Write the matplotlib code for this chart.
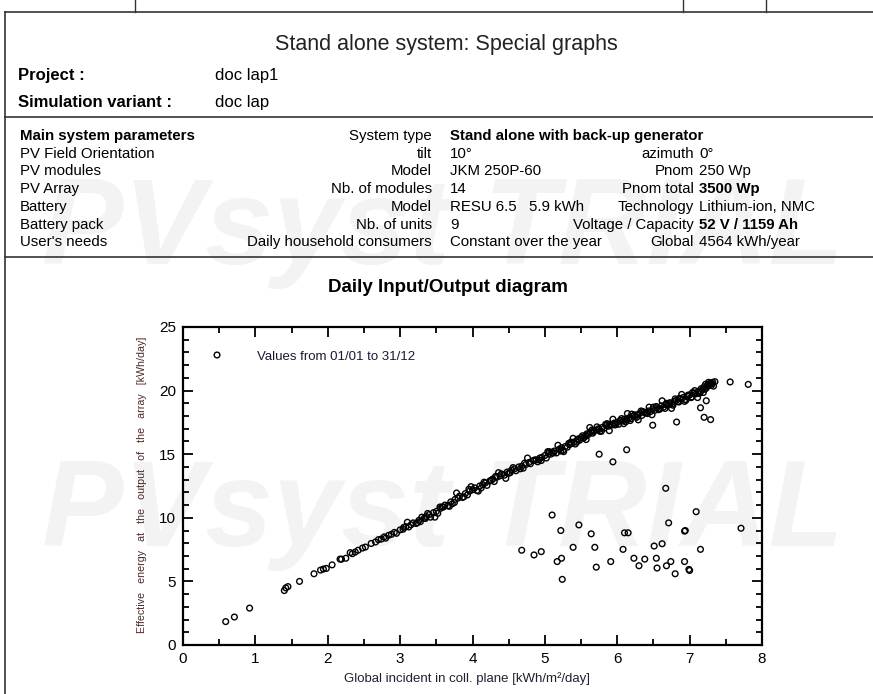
import numpy as np
import matplotlib.pyplot as plt
from matplotlib.ticker import MultipleLocator

plt.rcParams['font.family'] = ['Liberation Sans', 'DejaVu Sans']

# header texts
page_title = 'Stand alone system: Special graphs'
project_rows = [('Project :', 'doc lap1'), ('Simulation variant :', 'doc lap')]
param_rows = [
    ('Main system parameters', 'System type', 'Stand alone with back-up generator', '', ''),
    ('PV Field Orientation', 'tilt', '10°', 'azimuth', '0°'),
    ('PV modules', 'Model', 'JKM 250P-60', 'Pnom', '250 Wp'),
    ('PV Array', 'Nb. of modules', '14', 'Pnom total', '3500 Wp'),
    ('Battery', 'Model', 'RESU 6.5   5.9 kWh', 'Technology', 'Lithium-ion, NMC'),
    ('Battery pack', 'Nb. of units', '9', 'Voltage / Capacity', '52 V / 1159 Ah'),
    ("User's needs", 'Daily household consumers', 'Constant over the year', 'Global', '4564 kWh/year'),
]
bold_values = ['Stand alone with back-up generator', '3500 Wp', '52 V / 1159 Ah']

chart_title = 'Daily Input/Output diagram'
x_label = 'Global incident in coll. plane [kWh/m²/day]'
y_label = 'Effective   energy   at   the   output   of   the   array   [kWh/day]'
legend_text = 'Values from 01/01 to 31/12'

# daily points: global incident (kWh/m2/day) vs effective energy (kWh/day)
low_x = [0.59, 0.71, 0.92, 1.40, 1.42, 1.45, 1.61, 1.81, 1.90, 1.94, 1.98, 2.06,
         2.17, 2.19, 2.25, 2.31, 2.34, 2.38, 2.42]
low_y = [1.84, 2.20, 2.90, 4.28, 4.49, 4.59, 5.00, 5.60, 5.89, 5.97, 6.02, 6.30,
         6.75, 6.75, 6.82, 7.26, 7.18, 7.31, 7.45]

band_x = [2.48, 2.52, 2.60, 2.66, 2.70, 2.74, 2.78, 2.80, 2.84, 2.88, 2.92, 2.95,
          3.00, 3.04, 3.08, 3.12, 3.15, 3.18, 3.22, 3.26, 3.28, 3.30, 3.33, 3.36,
          3.40, 3.42, 3.46, 3.50, 3.52, 3.56, 3.60, 3.62, 3.66, 3.70, 3.72, 3.76,
          3.80, 3.82, 3.86, 3.90, 3.93, 3.96, 4.00, 4.03, 4.06, 4.10, 4.14, 4.18,
          4.20, 4.24, 4.28, 4.30, 4.34, 4.38, 4.40, 4.44, 4.48, 4.50, 4.54, 4.58,
          4.60, 4.64, 4.68, 4.70, 4.74, 4.78, 4.80, 4.84, 4.88, 4.90, 4.93, 4.96,
          5.00, 5.02, 5.05, 5.08, 5.10, 5.13, 5.16, 5.20, 5.23, 5.25, 5.28, 5.31,
          5.34, 5.37, 5.40, 5.42, 5.45, 5.48, 5.50, 5.53, 5.56, 5.58, 5.60, 5.63,
          5.66, 5.68, 5.71, 5.74, 5.76, 5.79, 5.82, 5.85, 5.88, 5.90, 5.93, 5.96,
          6.00, 6.02, 6.05, 6.08, 6.10, 6.13, 6.16, 6.19, 6.22, 6.25, 6.28, 6.31,
          6.34, 6.37, 6.40, 6.43, 6.46, 6.49, 6.52, 6.55, 6.58, 6.61, 6.64, 6.67,
          6.70, 6.73, 6.76, 6.79, 6.82, 6.85, 6.88, 6.91, 6.94, 6.97, 7.00, 7.03,
          7.06, 7.09, 7.12, 7.15, 7.18, 7.20, 7.23, 7.25, 7.28, 7.30, 7.32, 7.35,
          3.10, 3.24, 3.38, 3.48, 3.58, 3.68, 3.78, 3.88, 3.98, 4.08, 4.16, 4.26,
          4.36, 4.46, 4.56, 4.66, 4.76, 4.86, 4.95, 5.04, 5.12, 5.18, 5.26, 5.33,
          5.39, 5.44, 5.52, 5.57, 5.62, 5.67, 5.72, 5.78, 5.84, 5.89, 5.94, 5.98,
          6.04, 6.09, 6.14, 6.18, 6.24, 6.29, 6.33, 6.39, 6.44, 6.48, 6.54, 6.57,
          6.62, 6.66, 6.71, 6.75, 6.80, 6.84, 6.89, 6.93, 6.98, 7.02, 7.07, 7.11,
          7.16, 7.21, 7.26, 7.29, 7.33, 7.22, 7.19, 7.13,
          3.05, 3.35, 3.55, 3.75, 3.95, 4.12, 4.32, 4.52, 4.72, 4.92, 5.06, 5.22,
          5.36, 5.46, 5.55, 5.65, 5.75, 5.86, 5.97, 6.06, 6.12, 6.20, 6.27, 6.35,
          6.42, 6.50, 6.59, 6.68, 6.77, 6.86, 6.95, 7.04, 7.14, 7.24, 7.31]
band_y = [7.62, 7.70, 7.98, 8.10, 8.28, 8.33, 8.50, 8.40, 8.62, 8.70, 8.85, 8.78,
          9.05, 9.10, 9.30, 9.28, 9.45, 9.60, 9.55, 9.80, 9.70, 10.05, 9.95, 10.10,
          10.25, 10.05, 10.40, 10.50, 10.35, 10.75, 10.85, 11.00, 10.95, 11.25, 11.10, 11.45,
          11.55, 11.70, 11.60, 11.90, 11.80, 12.10, 12.20, 12.35, 12.15, 12.50, 12.60, 12.75,
          12.55, 12.90, 13.05, 12.85, 13.20, 13.30, 13.45, 13.35, 13.60, 13.50, 13.75, 13.85,
          13.70, 14.00, 14.05, 13.90, 14.20, 14.35, 14.25, 14.50, 14.55, 14.40, 14.70, 14.75,
          14.90, 14.70, 15.05, 15.00, 15.15, 15.25, 15.10, 15.40, 15.50, 15.30, 15.60, 15.55,
          15.75, 15.85, 15.95, 15.80, 16.15, 16.10, 16.30, 16.25, 16.45, 16.60, 16.55, 16.75,
          16.65, 16.85, 16.90, 17.00, 16.80, 17.10, 17.05, 17.25, 17.20, 17.35, 17.30, 17.45,
          17.50, 17.35, 17.65, 17.60, 17.75, 17.70, 17.85, 17.80, 18.00, 17.95, 18.10, 18.20,
          18.05, 18.30, 18.25, 18.40, 18.35, 18.55, 18.45, 18.65, 18.60, 18.80, 18.70, 18.90,
          18.85, 19.05, 18.95, 19.15, 19.25, 19.10, 19.35, 19.45, 19.30, 19.55, 19.65, 19.50,
          19.80, 19.75, 19.95, 19.90, 20.10, 20.30, 20.20, 20.45, 20.55, 20.40, 20.65, 20.70,
          9.65, 9.62, 10.34, 10.05, 10.85, 10.90, 11.95, 11.65, 12.45, 12.10, 12.80, 12.95,
          13.55, 13.10, 13.95, 13.85, 14.70, 14.55, 14.50, 15.20, 15.10, 15.70, 15.20, 15.85,
          16.25, 15.95, 16.45, 16.15, 17.10, 16.75, 17.15, 16.80, 17.35, 16.85, 17.75, 17.35,
          17.65, 17.40, 18.20, 17.65, 18.10, 17.70, 18.40, 18.25, 18.70, 18.10, 18.75, 18.50,
          19.20, 18.60, 19.00, 18.60, 19.35, 19.15, 19.70, 19.15, 19.65, 19.45, 20.00, 19.45,
          20.15, 20.10, 20.65, 20.60, 20.35, 20.50, 19.85, 19.80,
          9.25, 9.95, 10.85, 11.20, 12.25, 12.35, 13.25, 13.55, 14.30, 14.55, 15.20, 15.25,
          15.95, 16.20, 16.35, 16.90, 16.95, 17.40, 17.30, 17.80, 17.55, 18.15, 17.90, 18.35,
          18.20, 18.70, 18.55, 19.00, 18.85, 19.40, 19.25, 19.85, 19.80, 20.35, 20.55]

out_x = [4.68, 4.85, 4.95, 5.10, 5.17, 5.22, 5.23, 5.24, 5.39, 5.47, 5.64, 5.69,
         5.71, 5.91, 6.08, 6.10, 6.15, 6.23, 6.30, 6.38, 6.51, 6.54, 6.55, 6.62,
         6.67, 6.68, 6.71, 6.74, 6.80, 6.93, 6.93, 6.94, 6.99, 7.00, 7.09, 7.15,
         7.71, 5.75, 5.94, 6.13, 6.49, 6.82, 7.15, 7.23, 7.20, 7.29, 7.56, 7.81]
out_y = [7.45, 7.08, 7.34, 10.22, 6.56, 9.00, 6.82, 5.16, 7.68, 9.44, 8.74, 7.68,
         6.12, 6.56, 7.52, 8.82, 8.82, 6.82, 6.23, 6.75, 7.78, 6.82, 6.05, 7.96,
         12.32, 6.23, 9.60, 6.56, 5.60, 8.95, 6.56, 9.00, 5.94, 5.86, 10.48, 7.52,
         9.18, 15.00, 14.40, 15.35, 17.28, 17.53, 18.65, 19.20, 17.90, 17.72, 20.68, 20.49]

legend_pos = (0.47, 22.8)

W, H = 873, 694
fig = plt.figure(figsize=(W / 100, H / 100), dpi=100)

# page frame drawn in pixel coordinates
page = fig.add_axes([0, 0, 1, 1], zorder=0)
page.set_xlim(0, W)
page.set_ylim(H, 0)
page.axis('off')

for wy in (232, 514):
    page.text(443, wy, 'PVsyst TRIAL', ha='center', va='center', fontsize=88,
              style='italic', weight='bold', color='#f3f3f3', zorder=0)

lc = '#333333'
page.plot([5, W], [12, 12], color=lc, lw=1.2)
page.plot([5, 5], [12, H], color=lc, lw=1.2)
page.plot([5, W], [117, 117], color=lc, lw=1.2)
page.plot([5, W], [257, 257], color=lc, lw=1.2)
for tx in (135, 683, 766):
    page.plot([tx, tx], [0, 12], color=lc, lw=1)

page.text(446, 44, page_title, ha='center', va='center', fontsize=15.5, color='#222222')
for i, (lab, val) in enumerate(project_rows):
    yy = 75 + i * 27
    page.text(18, yy, lab, ha='left', va='center', fontsize=12, weight='bold')
    page.text(215, yy, val, ha='left', va='center', fontsize=12)

for i, row in enumerate(param_rows):
    yy = 136 + i * 17.7
    c1, c2, c3, c4, c5 = row
    page.text(20, yy, c1, ha='left', va='center', fontsize=10.8,
              weight='bold' if i == 0 else 'normal')
    page.text(432, yy, c2, ha='right', va='center', fontsize=10.8)
    page.text(450, yy, c3, ha='left', va='center', fontsize=10.8,
              weight='bold' if c3 in bold_values else 'normal')
    page.text(694, yy, c4, ha='right', va='center', fontsize=10.8)
    page.text(699, yy, c5, ha='left', va='center', fontsize=10.8,
              weight='bold' if c5 in bold_values else 'normal')

page.text(448, 287, chart_title, ha='center', va='center', fontsize=13.5, weight='bold')

# scatter chart
ax = fig.add_axes([183 / W, 1 - 645 / H, 579 / W, 318 / H], zorder=2)
ax.set_facecolor('none')
pts = dict(s=17, facecolors='none', edgecolors='black', linewidths=1.0)
ax.scatter(low_x, low_y, **pts)
ax.scatter(band_x, band_y, **pts)
ax.scatter(out_x, out_y, **pts)
ax.scatter([legend_pos[0]], [legend_pos[1]], **pts)
ax.text(1.02, 22.65, legend_text, ha='left', va='center', fontsize=9.5, color='#1a1a33')

ax.set_xlim(0, 8)
ax.set_ylim(0, 25)
ax.xaxis.set_major_locator(MultipleLocator(1))
ax.xaxis.set_minor_locator(MultipleLocator(0.5))
ax.yaxis.set_major_locator(MultipleLocator(5))
ax.yaxis.set_minor_locator(MultipleLocator(1))
ax.tick_params(which='both', direction='in', top=True, right=True, width=1.3, color='black')
ax.tick_params(which='major', length=7, labelsize=11, pad=5)
ax.tick_params(which='minor', length=4)
for sp in ax.spines.values():
    sp.set_linewidth(1.6)

ax.set_xlabel(x_label, fontsize=9.5, color='#202030')
ax.xaxis.set_label_coords(0.49, -0.085)
ax.set_ylabel(y_label, fontsize=7.7, color='#4a2a2a')
ax.yaxis.set_label_coords(-0.062, 0.505)

fig.savefig('out.png', dpi=100)
